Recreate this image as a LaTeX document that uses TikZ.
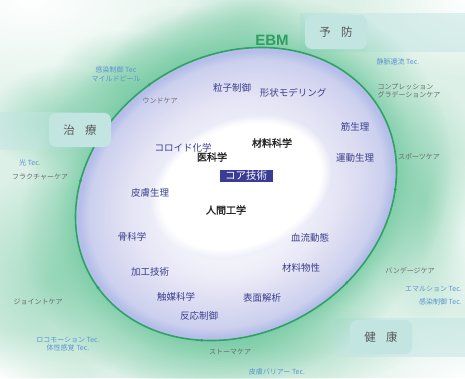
\documentclass[tikz,border=0pt]{standalone}
\usepackage{fontspec}
\setmainfont{Noto Sans CJK JP}
\newfontfamily\jpb[FakeBold=1.8]{Noto Sans CJK JP}
\newfontfamily\ebmf{Liberation Sans}
\usetikzlibrary{fadings}
\definecolor{bgmint}{HTML}{DCF0E7}
\definecolor{glow}{HTML}{6CC79C}
\definecolor{ebmline}{HTML}{2FA266}
\definecolor{lav}{HTML}{DCDCF2}
\definecolor{ringblue}{HTML}{B4BEE8}
\definecolor{innertxt}{HTML}{3B3E8C}
\definecolor{catgray}{HTML}{6A6A6A}
\definecolor{tecblue}{HTML}{5B95D0}
\definecolor{corebox}{HTML}{3A3C96}
\definecolor{ctgbox}{HTML}{C2E5E2}
\definecolor{ebmtxt}{HTML}{2E9E62}
\pgfdeclareradialshading{blobsh}{\pgfpointorigin}{color(0bp)=(white); color(25bp)=(black); color(50bp)=(black)}
\pgfdeclarefading{blobfade}{\pgfuseshading{blobsh}}
\pgfdeclareradialshading{softsh}{\pgfpointorigin}{color(0bp)=(white); color(22bp)=(white); color(25bp)=(black); color(50bp)=(black)}
\pgfdeclarefading{softfade}{\pgfuseshading{softsh}}
\pgfdeclareradialshading{glowsh}{\pgfpointorigin}{color(0bp)=(white); color(18.5bp)=(white); color(21bp)=(gray); color(25bp)=(black); color(50bp)=(black)}
\pgfdeclarefading{glowfade}{\pgfuseshading{glowsh}}
\pgfdeclareradialshading{ringsh}{\pgfpointorigin}{color(0bp)=(white); color(12bp)=(white!70!lav); color(19bp)=(lav); color(23bp)=(lav!60!ringblue); color(24.5bp)=(ringblue); color(25bp)=(ringblue); color(50bp)=(ringblue)}
\newcommand{\EP}[1]{({236+167*cos(#1)*0.866+139*sin(#1)*0.5},{194-167*cos(#1)*0.5+139*sin(#1)*0.866})}
\begin{document}
\begin{tikzpicture}[x=1pt,y=-1pt,
  inner/.style={font=\fontsize{9.5}{11}\selectfont, text=innertxt, inner sep=1pt},
  core/.style={font=\jpb\fontsize{10}{12}\selectfont, text=black!85, inner sep=1pt},
  cat/.style={font=\fontsize{7}{8.5}\selectfont, text=catgray, inner sep=1pt},
  tec/.style={font=\fontsize{7}{8.5}\selectfont, text=tecblue, inner sep=1pt},
  ctg/.style={font=\fontsize{11.5}{13}\selectfont, text=black!65, fill=ctgbox, rounded corners=7pt, minimum width=62pt, minimum height=34pt},
  blob/.style={path fading=blobfade},
  ringdot/.style={circle, fill=ebmline, inner sep=0pt, minimum size=3.2pt}]
\useasboundingbox (0,0) rectangle (465,378);
\clip (0,0) rectangle (465,378);
\fill[bgmint] (0,0) rectangle (465,378);
% soft background blobs
\fill[white, blob] (30,0) ellipse [x radius=230, y radius=120];
\fill[white, blob] (470,0) ellipse [x radius=120, y radius=80];
\fill[white, blob] (470,378) ellipse [x radius=150, y radius=60];
\fill[white, blob] (0,378) ellipse [x radius=90, y radius=50];
\fill[white, blob] (465,230) ellipse [x radius=45, y radius=80];
\fill[glow, blob, opacity=0.6] (60,120) ellipse [x radius=70, y radius=55];
\fill[glow, blob, opacity=0.6] (120,85) ellipse [x radius=70, y radius=55];
\fill[glow, blob, opacity=0.5] (180,55) ellipse [x radius=70, y radius=50];
\fill[glow, blob, opacity=0.4] (240,25) ellipse [x radius=65, y radius=40];
\fill[glow, blob, opacity=0.5] (425,200) ellipse [x radius=60, y radius=120];
\fill[glow, blob, opacity=0.5] (50,280) ellipse [x radius=100, y radius=110];
\fill[glow, blob, opacity=0.45] (250,345) ellipse [x radius=170, y radius=45];
% category bands
\fill[ctgbox, opacity=0.5] (0,112) rectangle (125,150);
\fill[ctgbox, opacity=0.5] (300,13) rectangle (465,52);
\fill[ctgbox, opacity=0.5] (335,318) rectangle (465,357);
% big ring
\begin{scope}[transform canvas={shift={(236,194)}, rotate=30}]
  \fill[glow, path fading=glowfade, opacity=0.75] (0,0) ellipse [x radius=224, y radius=188];
  \shade[shading=ringsh] (0,0) ellipse [x radius=166.5, y radius=138.5];
  \draw[ebmline, line width=1.6pt] (0,0) ellipse [x radius=167, y radius=139];
\end{scope}
% core
\begin{scope}[transform canvas={shift={(241,186)}, rotate=22}]
  \fill[ringblue, blob, opacity=0.4] (0,0) ellipse [x radius=116, y radius=84];
  \fill[white, path fading=softfade] (0,0) ellipse [x radius=94, y radius=67];
\end{scope}
% dots on the ring
\node[ringdot] (d1) at \EP{-97} {};
\node[ringdot] (d2) at \EP{-140} {};
\node[ringdot] (d3) at \EP{175} {};
\node[ringdot] (d4) at \EP{128} {};
\node[ringdot] (d5) at \EP{72} {};
\node[ringdot] (d6) at \EP{33} {};
% category boxes
\node[ctg] (yobo) at (336,32) {予\hspace{0.9em}防};
\node[ctg] (chiryo) at (80,130) {治\hspace{0.9em}療};
\node[ctg] (kenko) at (381,337) {健\hspace{0.9em}康};
\node[font=\ebmf\bfseries\fontsize{15}{17}\selectfont, text=ebmtxt] (ebm) at (272,40) {EBM};
% outer labels
\node[tec, align=center] (kansen1) at (116,74) {感染制御 Tec\\マイルドピール};
\node[cat] (wound) at (160,101) {ウンドケア};
\node[tec] (jomyaku) at (398,62) {静脈還流 Tec.};
\node[cat, align=left] (compress) at (409,91) {コンプレッション\\グラデーションケア};
\node[tec, anchor=west] (hikari) at (18,163) {光 Tec.};
\node[cat, anchor=west] (fracture) at (11,177) {フラクチャーケア};
\node[cat] (sports) at (419,157) {スポーツケア};
\node[cat] (bandage) at (410,271) {バンデージケア};
\node[tec, anchor=east] (emul) at (463,289) {エマルション Tec.};
\node[tec, anchor=east] (kansen2) at (463,302) {感染制御 Tec.};
\node[cat] (joint) at (38,302) {ジョイントケア};
\node[tec, align=center] (loco) at (68,344) {ロコモーション Tec.\\体性感覚 Tec.};
\node[cat] (stoma) at (230,352) {ストーマケア};
\node[tec] (barrier) at (277,372) {皮膚バリアー Tec.};
% inner ring labels
\node[inner] (ryushi) at (232,88) {粒子制御};
\node[inner] (keijo) at (293,93) {形状モデリング};
\node[inner] (colloid) at (183,148) {コロイド化学};
\node[inner] (kin) at (355,127) {筋生理};
\node[inner] (hifu) at (150,193) {皮膚生理};
\node[inner] (undo) at (355,158) {運動生理};
\node[inner] (kotsu) at (132,237) {骨科学};
\node[inner] (ketsuryu) at (310,238) {血流動態};
\node[inner] (kako) at (150,272) {加工技術};
\node[inner] (bussei) at (301,268) {材料物性};
\node[inner] (shokubai) at (176,297) {触媒科学};
\node[inner] (hyomen) at (262,298) {表面解析};
\node[inner] (hanno) at (199,316) {反応制御};
% core labels
\node[core] (zairyo) at (272,143) {材料科学};
\node[core] (ika) at (212,157) {医科学};
\node[core] (ningen) at (226,210) {人間工学};
\node[font=\fontsize{10.5}{12}\selectfont, text=white, fill=corebox, draw=white, line width=0.8pt, inner xsep=6pt, inner ysep=1.5pt] (core) at (246,176) {コア技術};
\end{tikzpicture}
\end{document}
